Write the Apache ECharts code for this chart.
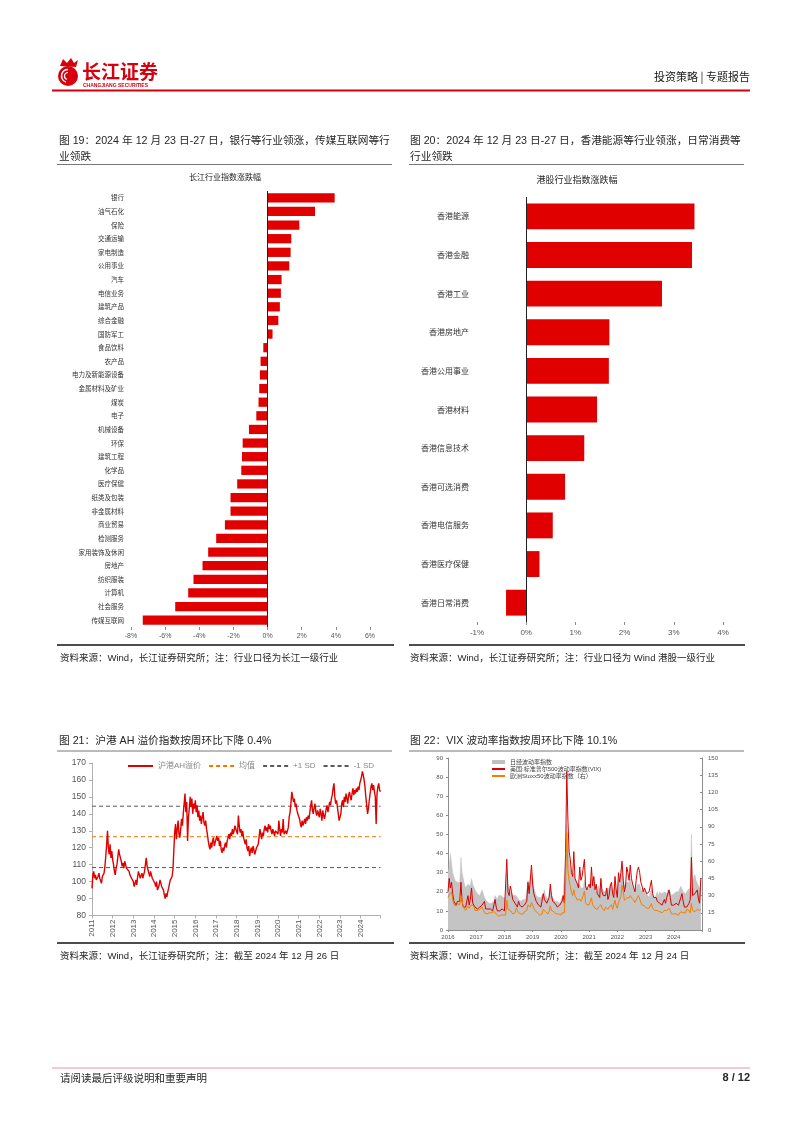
<!DOCTYPE html>
<html><head><meta charset="utf-8">
<script src="https://cdn.jsdelivr.net/npm/echarts/dist/echarts.min.js"></script>
<style>html,body{margin:0;padding:0;background:#fff}#c{width:802px;height:1133px}</style>
</head><body><div id="c"></div>
<script>
// ---------- Figure 19: Changjiang industry index change (%) ----------
const cjIndustries = ['银行','油气石化','保险','交通运输','家电制造','公用事业','汽车','电信业务','建筑产品','综合金融','国防军工','食品饮料','农产品','电力及新能源设备','金属材料及矿业','煤炭','电子','机械设备','环保','建筑工程','化学品','医疗保健','纸类及包装','非金属材料','商业贸易','检测服务','家用装饰及休闲','房地产','纺织服装','计算机','社会服务','传媒互联网'];
const cjChanges = [3.93,2.78,1.86,1.39,1.35,1.27,0.82,0.78,0.72,0.63,0.29,-0.25,-0.41,-0.45,-0.49,-0.53,-0.66,-1.09,-1.46,-1.50,-1.54,-1.78,-2.17,-2.17,-2.50,-3.01,-3.48,-3.81,-4.34,-4.65,-5.41,-7.31];

// ---------- Figure 20: HK industry index change (%) ----------
const hkIndustries = ['香港能源','香港金融','香港工业','香港房地产','香港公用事业','香港材料','香港信息技术','香港可选消费','香港电信服务','香港医疗保健','香港日常消费'];
const hkChanges = [3.42,3.37,2.76,1.69,1.68,1.44,1.18,0.79,0.54,0.27,-0.41];

// ---------- Figure 21: AH premium index, semi-monthly samples 2011-2024 ----------
const ahStartYear = 2011;
const ahPremium = [
 96,104,106,102,104,101,100,103,105,102,101,99,103,102,105,109,115,122,130,120,116,122,114,118,
 113,110,106,104,108,110,109,119,116,114,112,109,111,108,112,110,108,107,109,106,104,105,102,101,
 100,97,99,101,98,103,106,104,102,103,105,102,104,106,110,114,109,107,105,103,106,104,102,101,
 101,99,97,100,95,94,98,101,99,97,96,95,92,90,93,91,94,96,99,101,100,103,107,118,
 129,134,125,131,136,128,126,131,137,133,140,146,152,141,147,124,138,143,150,144,149,140,146,143,
 148,141,145,138,142,136,139,134,138,141,135,133,136,131,128,124,121,119,123,120,124,126,121,123,
 122,127,124,126,121,124,119,117,120,118,121,123,120,124,126,128,125,129,127,131,128,130,133,131,
 132,128,139,133,129,131,127,130,126,124,122,125,120,118,121,115,118,120,117,121,119,116,118,120,
 119,122,126,131,128,125,129,127,131,133,130,132,129,134,131,133,130,128,131,129,127,130,129,131,
 128,136,131,127,131,129,137,128,127,130,128,127,132,138,141,146,153,150,147,149,144,146,142,140,
 141,137,134,132,136,133,135,137,134,138,136,139,137,141,145,148,142,140,144,146,141,139,142,140,
 138,143,140,136,142,139,137,140,143,145,141,144,147,145,149,151,155,158,150,146,148,144,140,136,
 135,140,146,148,144,150,147,152,149,146,151,153,150,148,152,155,151,154,152,155,153,156,154,158,
 158,162,165,163,160,156,150,145,140,143,148,152,156,158,154,157,153,150,134,152,156,158,154,153
];
const ahMean = 126.5;
const ahPlusSD = 144.5;
const ahMinusSD = 108.3;

// ---------- Figure 22: volatility indices, semi-monthly samples 2016-2024 ----------
const volStartYear = 2016;
const nikkeiVI = [
 30,33,40,35,30,28,26,27,25,26,25,38,30,27,24,22,22,24,23,23,27,24,23,21,
 20,19,19,18,18,21,20,17,16,15,15,14,14,14,14,15,18,17,16,18,18,18,19,17,
 17,17,30,24,21,21,19,18,18,17,18,17,16,16,15,16,16,17,16,17,26,22,22,30,
 27,22,21,18,18,17,18,17,17,19,21,18,17,16,19,22,19,17,16,15,15,15,15,14,
 15,17,19,20,40,55,45,38,33,28,28,30,27,26,24,23,24,22,22,22,26,23,21,21,
 22,22,27,25,24,21,21,20,23,21,24,21,20,20,21,21,20,22,24,23,20,19,24,21,
 19,26,24,27,32,27,23,23,25,25,25,27,24,23,21,20,22,24,25,24,21,20,20,22,
 21,19,18,17,17,22,18,17,17,18,20,18,20,19,19,20,20,19,19,21,22,20,18,18,
 19,18,20,20,20,20,23,24,20,19,19,18,21,20,22,50,26,25,29,26,26,23,22,21
];
const vix = [
 20,27,22,25,19,15,14,13,15,14,15,25,15,12,13,12,13,18,13,16,22,14,13,12,
 12,11,11,12,12,13,12,15,11,10,11,10,11,12,10,11,16,12,10,10,10,10,11,10,
 10,11,37,20,18,23,20,16,15,14,13,12,15,13,12,12,13,13,12,15,25,19,18,34,
 24,19,17,15,14,13,13,12,13,19,16,15,14,13,17,24,18,15,16,14,13,12,13,13,
 13,15,18,14,40,83,57,41,37,30,28,41,27,26,24,22,33,26,28,29,37,23,21,22,
 24,22,33,23,28,21,24,19,19,17,27,20,18,17,18,22,16,18,23,25,19,17,28,21,
 17,30,25,30,36,26,20,23,33,30,26,34,27,24,22,20,26,31,33,30,25,23,20,22,
 21,19,20,20,19,26,19,17,16,17,15,14,14,13,13,14,16,14,17,18,21,17,13,12,
 13,12,14,13,13,14,17,19,15,12,12,12,13,14,16,38,18,17,19,20,21,16,14,27
];
const vstoxx = [
 28,31,32,33,27,22,22,21,23,22,22,30,25,20,19,17,18,21,19,19,22,21,21,17,
 18,17,18,18,17,20,21,15,14,14,15,15,16,15,14,16,16,14,13,12,13,13,13,13,
 13,13,26,18,17,17,16,14,14,15,19,17,15,14,14,13,14,16,15,17,22,21,20,24,
 22,19,17,16,15,14,13,14,14,18,17,16,15,14,16,21,17,16,16,15,14,13,14,13,
 13,15,16,15,40,85,52,43,38,33,30,35,30,28,26,26,27,25,27,30,34,24,22,22,
 22,22,28,22,23,19,19,18,20,19,22,19,18,17,20,20,18,20,21,22,18,18,26,21,
 19,24,25,29,39,34,26,25,28,29,28,30,28,27,26,24,25,28,30,29,24,22,21,21,
 20,19,19,19,18,23,19,18,17,17,17,16,16,15,15,15,17,16,17,18,19,17,14,13,
 14,13,14,14,13,14,16,16,15,14,15,18,19,17,15,23,17,16,16,17,18,19,17,18
];

// semi-monthly sample dates as fractional years (1st and 16th of each month)
function toSeries(start, values){ return values.map((v,i)=>[start + i/24, v]); }

const FONT = 'Arial, "Liberation Sans", "Noto Sans CJK SC", sans-serif';
const CJK = '"Noto Sans CJK SC", sans-serif';
const RED = '#E00000';

const chart = echarts.init(document.getElementById('c'), null, {renderer:'canvas'});

function txt(text, x, y, size, opt){
  opt = opt || {};
  return {type:'text', x:x, y:y, silent:true, style:{text:text, fontSize:size, fontFamily:opt.family||FONT,
    fill:opt.color||'#262626', fontWeight:opt.weight||'normal', align:opt.align||'left', verticalAlign:opt.valign||'middle'}};
}
function hline(x1,x2,y,color,w){
  return {type:'line', silent:true, shape:{x1:x1,y1:y,x2:x2,y2:y}, style:{stroke:color, lineWidth:w}};
}

const graphics = [
  // header
  {type:'circle', silent:true, shape:{cx:68, cy:76, r:10}, style:{fill:'#D7000F'}},
  {type:'arc', silent:true, shape:{cx:68, cy:76, r:6.5, startAngle:Math.PI*0.6, endAngle:Math.PI*1.5}, style:{stroke:'#fff', lineWidth:1.4, fill:null}},
  {type:'arc', silent:true, shape:{cx:68, cy:76, r:3.5, startAngle:Math.PI*0.6, endAngle:Math.PI*1.5}, style:{stroke:'#fff', lineWidth:1.2, fill:null}},
  {type:'polygon', silent:true, shape:{points:[[60,66],[63,59],[67,63],[71,58],[74,63],[78,60],[76,67]]}, style:{fill:'#D7000F'}},
  txt('长江证券', 82, 72, 19, {family:CJK, color:'#D7000F', weight:'bold'}),
  txt('CHANGJIANG SECURITIES', 83, 86, 5, {color:'#D7000F', weight:'bold'}),
  txt('投资策略 | 专题报告', 750, 77, 11, {family:CJK, color:'#1a1a1a', align:'right'}),
  hline(52, 750, 90.5, '#D7000F', 2),
  // captions top
  txt('图 19：2024 年 12 月 23 日-27 日，银行等行业领涨，传媒互联网等行', 59, 141, 10.7),
  txt('业领跌', 59, 157, 10.7),
  txt('图 20：2024 年 12 月 23 日-27 日，香港能源等行业领涨，日常消费等', 410, 141, 10.7),
  txt('行业领跌', 410, 157, 10.7),
  hline(57, 392, 164.5, '#777', 1),
  hline(409, 744, 164.5, '#777', 1),
  txt('长江行业指数涨跌幅', 225, 177, 8, {family:CJK, align:'center'}),
  txt('港股行业指数涨跌幅', 577, 180, 9, {family:CJK, align:'center'}),
  hline(57, 394, 645, '#111', 1.5),
  hline(409, 745, 645, '#111', 1.5),
  txt('资料来源：Wind，长江证券研究所；注：行业口径为长江一级行业', 60, 658, 9.5),
  txt('资料来源：Wind，长江证券研究所；注：行业口径为 Wind 港股一级行业', 410, 658, 9.5),
  // captions bottom
  txt('图 21：沪港 AH 溢价指数按周环比下降 0.4%', 59, 741, 10.7),
  txt('图 22：VIX 波动率指数按周环比下降 10.1%', 410, 741, 10.7),
  hline(57, 392, 751, '#777', 1),
  hline(409, 744, 751, '#777', 1),
  hline(57, 394, 943, '#111', 1.5),
  hline(409, 745, 943, '#111', 1.5),
  txt('资料来源：Wind，长江证券研究所；注：截至 2024 年 12 月 26 日', 60, 956, 9.5),
  txt('资料来源：Wind，长江证券研究所；注：截至 2024 年 12 月 24 日', 410, 956, 9.5),
  // footer
  hline(52, 750, 1068, '#F2B8B8', 1.5),
  txt('请阅读最后评级说明和重要声明', 60, 1078, 10.5, {family:CJK}),
  txt('8 / 12', 750, 1078, 11, {weight:'bold', align:'right'})
];

const zeroLine = {silent:true, symbol:['none','none'], label:{show:false},
  lineStyle:{color:'#222', width:1, type:'solid'}, data:[{xAxis:0}]};
const grayAxis = {lineStyle:{color:'#8c8c8c', width:1}};

const option = {
  animation:false,
  backgroundColor:'#fff',
  graphic: graphics,
  grid:[
    {left:131, top:191, width:239, height:436},
    {left:477, top:197, width:246, height:425},
    {left:92, top:763, width:288.5, height:152.5},
    {left:448, top:758, width:254, height:172}
  ],
  legend:[
    {left:122, top:757, itemWidth:25, itemHeight:8, itemGap:7,
     itemStyle:{opacity:0},
     textStyle:{fontSize:8, color:'#888', fontFamily:FONT},
     data:['沪港AH溢价','均值','+1 SD','-1 SD']},
    {left:486, top:754, orient:'vertical', itemWidth:13, itemHeight:4, itemGap:1,
     itemStyle:{opacity:0},
     textStyle:{fontSize:6, color:'#444', fontFamily:FONT},
     data:[{name:'日经波动率指数', icon:'rect', itemStyle:{opacity:1}},'美国:标准普尔500波动率指数(VIX)','欧洲Stoxx50波动率指数（右）']}
  ],
  xAxis:[
    {gridIndex:0, type:'value', min:-8, max:6, interval:2, splitLine:{show:false},
     axisLine:grayAxis, axisTick:{show:true, length:3, lineStyle:{color:'#8c8c8c'}},
     axisLabel:{fontSize:7, color:'#555', margin:6, formatter:'{value}%', fontFamily:FONT}},
    {gridIndex:1, type:'value', min:-1, max:4, interval:1, splitLine:{show:false},
     axisLine:grayAxis, axisTick:{show:true, length:3, lineStyle:{color:'#8c8c8c'}},
     axisLabel:{fontSize:8, color:'#555', margin:7, formatter:'{value}%', fontFamily:FONT}},
    {gridIndex:2, type:'value', min:2011, max:2024.96, interval:1, splitLine:{show:false},
     axisLine:{lineStyle:{color:'#b0b0b0', width:1}}, axisTick:{show:true, length:3, lineStyle:{color:'#b0b0b0'}},
     axisLabel:{fontSize:8, color:'#555', rotate:90, margin:4, fontFamily:FONT,
       formatter:v=>Number.isInteger(v)?String(v):''}},
    {gridIndex:3, type:'value', min:2016, max:2025, interval:1, splitLine:{show:false},
     axisLine:grayAxis, axisTick:{show:true, length:2, lineStyle:{color:'#8c8c8c'}},
     axisLabel:{fontSize:6, color:'#555', margin:4, fontFamily:FONT,
       formatter:v=>(Number.isInteger(v)&&v<2025)?String(v):''}}
  ],
  yAxis:[
    {gridIndex:0, type:'category', inverse:true, data:cjIndustries,
     axisLine:{show:false, onZero:false}, axisTick:{show:false},
     axisLabel:{fontSize:6.5, color:'#333', margin:7, fontFamily:CJK}},
    {gridIndex:1, type:'category', inverse:true, data:hkIndustries,
     axisLine:{show:false, onZero:false}, axisTick:{show:false},
     axisLabel:{fontSize:8, color:'#333', margin:8, fontFamily:CJK}},
    {gridIndex:2, type:'value', min:80, max:170, interval:10, splitLine:{show:false},
     axisLine:{show:true, lineStyle:{color:'#b0b0b0'}}, axisTick:{show:true, length:3, lineStyle:{color:'#b0b0b0'}},
     axisLabel:{fontSize:8.5, color:'#555', margin:6, fontFamily:FONT}},
    {gridIndex:3, type:'value', min:0, max:90, interval:10, splitLine:{show:false},
     axisLine:{show:true, lineStyle:{color:'#8c8c8c'}}, axisTick:{show:true, length:2, lineStyle:{color:'#8c8c8c'}},
     axisLabel:{fontSize:6, color:'#555', margin:5, fontFamily:FONT}},
    {gridIndex:3, type:'value', position:'right', min:0, max:150, interval:15, splitLine:{show:false},
     axisLine:{show:true, lineStyle:{color:'#8c8c8c'}}, axisTick:{show:true, inside:true, length:2, lineStyle:{color:'#8c8c8c'}},
     axisLabel:{fontSize:6, color:'#555', margin:6, fontFamily:FONT}}
  ],
  series:[
    {type:'bar', xAxisIndex:0, yAxisIndex:0, data:cjChanges, barCategoryGap:'32%',
     itemStyle:{color:RED}, markLine:zeroLine},
    {type:'bar', xAxisIndex:1, yAxisIndex:1, data:hkChanges, barCategoryGap:'33%',
     itemStyle:{color:RED}, markLine:zeroLine},
    {name:'沪港AH溢价', type:'line', xAxisIndex:2, yAxisIndex:2, data:toSeries(ahStartYear, ahPremium),
     showSymbol:false, symbol:'none', lineStyle:{color:RED, width:1.4}, itemStyle:{color:RED}, z:5},
    {name:'均值', type:'line', xAxisIndex:2, yAxisIndex:2, data:[[2011,ahMean],[2024.96,ahMean]],
     symbol:'none', lineStyle:{color:'#F07800', width:1, type:[4,3]}, itemStyle:{color:'#F07800'}},
    {name:'+1 SD', type:'line', xAxisIndex:2, yAxisIndex:2, data:[[2011,ahPlusSD],[2024.96,ahPlusSD]],
     symbol:'none', lineStyle:{color:'#595959', width:1, type:[4,3]}, itemStyle:{color:'#595959'}},
    {name:'-1 SD', type:'line', xAxisIndex:2, yAxisIndex:2, data:[[2011,ahMinusSD],[2024.96,ahMinusSD]],
     symbol:'none', lineStyle:{color:'#595959', width:1, type:[4,3]}, itemStyle:{color:'#595959'}},
    {name:'日经波动率指数', type:'line', xAxisIndex:3, yAxisIndex:3, data:toSeries(volStartYear, nikkeiVI),
     symbol:'none', lineStyle:{color:'#C4C4C4', width:0.5}, itemStyle:{color:'#BFBFBF'},
     areaStyle:{color:'#C4C4C4', opacity:1}},
    {name:'美国:标准普尔500波动率指数(VIX)', type:'line', xAxisIndex:3, yAxisIndex:3, data:toSeries(volStartYear, vix),
     symbol:'none', lineStyle:{color:'#D90000', width:1}, itemStyle:{color:'#D90000'}},
    {name:'欧洲Stoxx50波动率指数（右）', type:'line', xAxisIndex:3, yAxisIndex:4, data:toSeries(volStartYear, vstoxx),
     symbol:'none', lineStyle:{color:'#F28000', width:1}, itemStyle:{color:'#F28000'}}
  ]
};
chart.setOption(option);
</script></body></html>
